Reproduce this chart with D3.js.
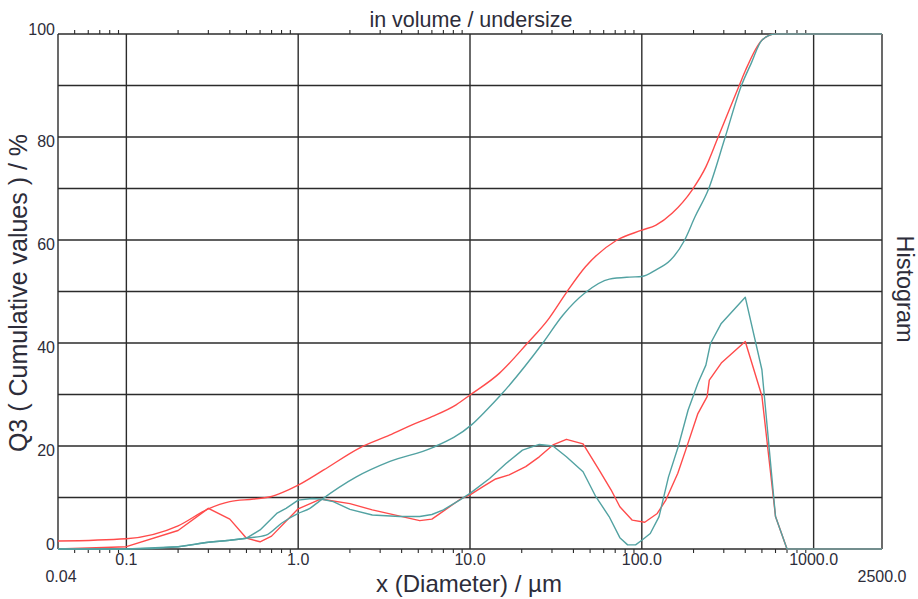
<!DOCTYPE html>
<html>
<head>
<meta charset="utf-8">
<script src="https://cdn.jsdelivr.net/npm/d3@7"></script>
<style>
  html, body { margin: 0; padding: 0; background: #fff; }
  svg { display: block; }
  text { font-family: "Liberation Sans", Arial, sans-serif; fill: #2d2d3a; }
</style>
</head>
<body>
<svg id="chart" width="918" height="599"></svg>
<script>
// Particle size distribution: cumulative Q3 and histogram, two samples
const redCumSize = [0.04, 0.1, 0.2, 0.3, 0.4, 0.55, 0.7, 0.8, 1.0, 1.4, 2.3, 3.4, 4.6, 6.0, 8.3, 10, 14.8, 21.5, 28.4, 36.4, 47, 71, 100, 121, 150, 197, 236, 276, 322, 368, 402, 500, 600, 2500];
const redCumVal  = [1.55, 2.0, 4.5, 7.8, 9.2, 9.7, 10.2, 10.9, 12.4, 15.3, 19.7, 22.1, 24.1, 25.7, 28.0, 29.9, 34.1, 39.9, 44.5, 49.8, 54.8, 59.9, 61.9, 62.9, 65.2, 69.8, 74.2, 79.7, 85.2, 89.9, 93.0, 98.8, 100, 100];

const tealCumSize = [0.04, 0.1, 0.2, 0.3, 0.4, 0.5, 0.65, 0.8, 1.0, 1.17, 1.33, 2.18, 3.42, 6.06, 10.2, 12.5, 15.1, 26.4, 34.7, 47, 64.7, 85, 100, 121, 147, 177, 204, 244, 304, 379, 433, 500, 600, 2500];
const tealCumVal  = [0, 0, 0.45, 1.3, 1.7, 2.1, 2.7, 5.0, 6.9, 7.9, 9.3, 14.0, 17.0, 19.7, 24.1, 27.0, 29.9, 39.9, 45.4, 49.8, 52.4, 52.8, 52.9, 54.2, 56.1, 59.9, 64.5, 69.8, 79.7, 89.9, 94.3, 98.8, 100, 100];

const redHistSize = [0.04, 0.1, 0.2, 0.3, 0.4, 0.5, 0.6, 0.7, 1.0, 1.35, 2.0, 2.7, 5.1, 6.0, 6.9, 8.9, 10, 11.9, 14.1, 16.9, 21.1, 25.3, 30.4, 36.4, 45.5, 56.5, 66.2, 74.5, 88, 104, 123, 138, 162, 180, 212, 240, 247, 290, 400, 500, 600, 700, 2500];
const redHistVal  = [0, 0.45, 3.6, 7.9, 5.8, 2.1, 1.4, 2.5, 7.8, 9.7, 8.8, 7.6, 5.5, 5.8, 7.2, 9.8, 10.5, 12.1, 13.6, 14.4, 16.0, 17.9, 20.2, 21.3, 20.4, 15.3, 11.5, 8.2, 5.6, 5.2, 6.9, 9.5, 14.7, 19.2, 26.3, 29.6, 32.8, 36.1, 40.3, 29.7, 6.3, 0, 0];

const tealHistSize = [0.04, 0.1, 0.2, 0.3, 0.4, 0.5, 0.6, 0.75, 0.85, 1.0, 1.2, 1.35, 1.6, 2.0, 2.7, 3.9, 5.1, 6.0, 7.0, 8.7, 10, 13, 16.2, 20.2, 25.3, 30.4, 36.4, 45.5, 53.9, 64.5, 74.5, 82.7, 92, 100, 112, 126, 143, 163, 186, 212, 236, 251, 290, 400, 500, 600, 700, 2500];
const tealHistVal  = [0, 0, 0.45, 1.3, 1.7, 2.1, 3.7, 6.9, 7.9, 9.5, 9.8, 9.7, 9.2, 7.7, 6.6, 6.3, 6.3, 6.7, 7.6, 9.5, 10.8, 13.7, 16.6, 19.2, 20.3, 20.0, 17.9, 15.0, 10.2, 6.3, 2.2, 0.8, 0.8, 1.7, 3.0, 6.3, 14.0, 19.9, 27.0, 32.2, 35.7, 39.9, 43.8, 48.9, 34.8, 6.3, 0, 0];

// Axis definitions
const xDomain = [0.04, 2500];
const xMajor = [0.1, 1, 10, 100, 1000];
const xMajorLabels = ["0.1", "1.0", "10.0", "100.0", "1000.0"];
const xEndLabels = ["0.04", "2500.0"];
const yGrid = [0, 10, 20, 30, 40, 50, 60, 70, 80, 90, 100];
const yLabels = [0, 20, 40, 60, 80, 100];

const redColor = "#ff4b4b";
const tealColor = "#52a2a2";
const gridColor = "#2b2b2b";

const svg = d3.select("#chart");
const plotLeft = 58, plotRight = 882, plotTop = 34, plotBottom = 549;

const x = d3.scaleLog().domain(xDomain).range([plotLeft, plotRight]);
const y = d3.scaleLinear().domain([0, 100]).range([plotBottom, plotTop]);

// minor ticks 2..9 in every decade inside the domain (up to 900)
const minor = [];
for (let e = -2; e <= 2; e++) {
  for (let m = 2; m <= 9; m++) {
    const v = m * Math.pow(10, e);
    if (v > xDomain[0] && v < 1000) minor.push(+v.toPrecision(3));
  }
}

const grid = svg.append("g").attr("stroke", gridColor).attr("stroke-width", 1.4).attr("fill", "none");

// horizontal grid
grid.selectAll("line.h").data(yGrid).join("line")
  .attr("x1", plotLeft).attr("x2", plotRight)
  .attr("y1", d => y(d)).attr("y2", d => y(d));

// vertical grid at decades plus frame edges
grid.selectAll("line.v").data(xMajor.concat(xDomain)).join("line")
  .attr("x1", d => x(d)).attr("x2", d => x(d))
  .attr("y1", plotTop).attr("y2", plotBottom);

// minor ticks on top and bottom, pointing outward
const tk = svg.append("g").attr("stroke", gridColor).attr("stroke-width", 1.1);
tk.selectAll("line.t").data(minor).join("line")
  .attr("x1", d => x(d)).attr("x2", d => x(d))
  .attr("y1", plotTop).attr("y2", plotTop - 4);
tk.selectAll("line.b").data(minor).join("line")
  .attr("x1", d => x(d)).attr("x2", d => x(d))
  .attr("y1", plotBottom).attr("y2", plotBottom + 4);

// series: smooth cumulative curves, straight-segment histograms
const cumLine = d3.line().x(d => x(d[0])).y(d => y(d[1])).curve(d3.curveMonotoneX);
const histLine = d3.line().x(d => x(d[0])).y(d => y(d[1]));
function drawSeries(sizes, vals, color, gen) {
  svg.append("path")
    .datum(sizes.map((s, i) => [s, vals[i]]))
    .attr("d", gen)
    .attr("fill", "none")
    .attr("stroke", color)
    .attr("stroke-width", 1.4)
    .attr("stroke-linejoin", "round");
}
drawSeries(redCumSize, redCumVal, redColor, cumLine);
drawSeries(redHistSize, redHistVal, redColor, histLine);
drawSeries(tealCumSize, tealCumVal, tealColor, cumLine);
drawSeries(tealHistSize, tealHistVal, tealColor, histLine);

// y labels
svg.append("g").selectAll("text").data(yLabels).join("text")
  .attr("x", 55)
  .attr("y", d => (d === 0 || d === 100) ? y(d) + 1 : y(d) + 10)
  .attr("text-anchor", "end")
  .attr("font-size", 16)
  .text(d => d);

// x labels
svg.append("g").selectAll("text").data(xMajor).join("text")
  .attr("x", d => x(d))
  .attr("y", 565)
  .attr("text-anchor", "middle")
  .attr("font-size", 16)
  .text((d, i) => xMajorLabels[i]);

svg.append("g").selectAll("text").data(xDomain).join("text")
  .attr("x", (d, i) => x(d) + (i === 0 ? 3 : 0))
  .attr("y", 582)
  .attr("text-anchor", "middle")
  .attr("font-size", 16)
  .text((d, i) => xEndLabels[i]);

// titles
svg.append("text").attr("x", 471).attr("y", 27).attr("text-anchor", "middle")
  .attr("font-size", 21.5).text("in volume / undersize");
svg.append("text").attr("x", 469).attr("y", 592).attr("text-anchor", "middle")
  .attr("font-size", 24).text("x (Diameter) / µm");
svg.append("text").attr("transform", "translate(27,293) rotate(-90)")
  .attr("text-anchor", "middle").attr("font-size", 25)
  .text("Q3 ( Cumulative values ) / %");
svg.append("text").attr("transform", "translate(897,289) rotate(90)")
  .attr("text-anchor", "middle").attr("font-size", 23.5)
  .text("Histogram");
</script>
</body>
</html>
